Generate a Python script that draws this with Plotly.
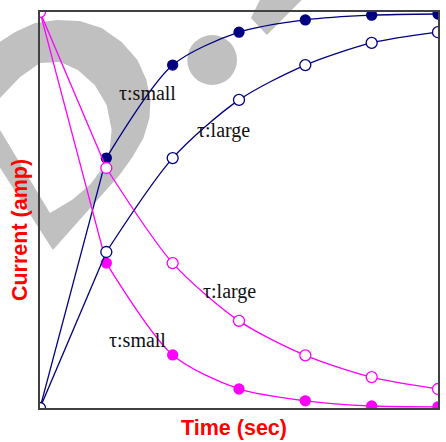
import plotly.graph_objects as go

t = [0, 1, 2, 3, 4, 5, 6]
rise_small = [0.0, 0.631, 0.866, 0.949, 0.980, 0.992, 0.995]
rise_large = [0.0, 0.394, 0.631, 0.778, 0.866, 0.922, 0.949]
decay_large = [1.0, 0.606, 0.366, 0.220, 0.133, 0.078, 0.048]
decay_small = [1.0, 0.366, 0.134, 0.048, 0.018, 0.005, 0.003]

labels = ["τ:small", "τ:large", "τ:large", "τ:small"]
label_x = [1.62, 2.76, 2.85, 1.47]
label_y = [0.795, 0.702, 0.295, 0.172]

NAVY = "#000080"
MAG = "#ff00ff"
WM = "#c0c0c0"

W, H = 446, 442
L, R, T, B = 40, 6, 12, 34
PW, PH = W - L - R, H - T - B


def px(x):
    return (x - L) / PW


def py(y):
    return (H - B - y) / PH


def poly(points):
    s = "M " + " L ".join(f"{px(a):.4f},{py(b):.4f}" for a, b in points) + " Z"
    return s


fig = go.Figure()


def add_curve(y, color, filled):
    # straight first segment, smooth afterwards
    fig.add_trace(go.Scatter(x=t[:2], y=y[:2], mode="lines",
                             line=dict(color=color, width=1.3),
                             hoverinfo="skip", showlegend=False))
    fig.add_trace(go.Scatter(x=t[1:], y=y[1:], mode="lines",
                             line=dict(color=color, width=1.3, shape="spline", smoothing=0.8),
                             hoverinfo="skip", showlegend=False))
    fig.add_trace(go.Scatter(
        x=t, y=y, mode="markers", showlegend=False,
        marker=dict(symbol="circle", size=10 if filled else 11,
                    color=color if filled else "white",
                    line=dict(color=color, width=1.3)),
    ))


add_curve(rise_small, NAVY, True)
add_curve(decay_small, MAG, True)
add_curve(rise_large, NAVY, False)
add_curve(decay_large, MAG, False)

annotations = []
for txt, xv, yv in zip(labels, label_x, label_y):
    annotations.append(dict(x=xv, y=yv, xref="x", yref="y", text=txt, showarrow=False,
                            font=dict(family="Liberation Serif", size=20, color="#111111")))

annotations.append(dict(x=px(235), y=py(428), xref="paper", yref="paper", text="<b>Time (sec)</b>",
                        showarrow=False, font=dict(family="Liberation Sans", size=21.5, color="red"),
                        xanchor="center", yanchor="middle"))
annotations.append(dict(x=px(20), y=py(230), xref="paper", yref="paper", text="<b>Current (amp)</b>",
                        showarrow=False, textangle=-90,
                        font=dict(family="Liberation Sans", size=21.5, color="red"),
                        xanchor="center", yanchor="middle"))

# background watermark (decorative shapes, pixel outline)
wm_outline = [
    (-2, 43), (15, 32), (35, 23), (57, 20), (80, 21), (102, 28), (122, 42), (138, 60),
    (147, 80), (151, 100), (150, 118), (144, 138), (133, 157), (120, 175),
    (53, 250), (-2, 165), (-2, 127), (50, 213), (72, 200), (90, 185), (103, 168),
    (110, 150), (112, 130), (107, 105), (95, 85), (78, 70), (60, 62), (40, 63),
    (20, 77), (-2, 100),
]
wm_stripe = [(262, -2), (305, -2), (268, 35), (252, 18)]

shapes = [
    dict(type="path", xref="paper", yref="paper", layer="below", path=poly(wm_outline),
         fillcolor=WM, line=dict(width=0)),
    dict(type="circle", xref="paper", yref="paper", layer="below",
         x0=px(188), x1=px(238), y0=py(35), y1=py(85),
         fillcolor=WM, line=dict(width=0)),
    dict(type="path", xref="paper", yref="paper", layer="below", path=poly(wm_stripe),
         fillcolor=WM, line=dict(width=0)),
]

fig.update_layout(
    width=W, height=H,
    margin=dict(l=L, r=R, t=T, b=B),
    paper_bgcolor="white", plot_bgcolor="rgba(0,0,0,0)",
    annotations=annotations, shapes=shapes,
    xaxis=dict(range=[0, 6], showgrid=False, zeroline=False, showticklabels=False, ticks="",
               showline=True, mirror=True, linecolor="#404040", linewidth=2),
    yaxis=dict(range=[0, 1], showgrid=False, zeroline=False, showticklabels=False, ticks="",
               showline=True, mirror=True, linecolor="#404040", linewidth=2),
)

fig.write_html("out.html", config={"displayModeBar": False},
               post_script="document.body.style.margin='0';document.body.style.overflow='hidden';")
